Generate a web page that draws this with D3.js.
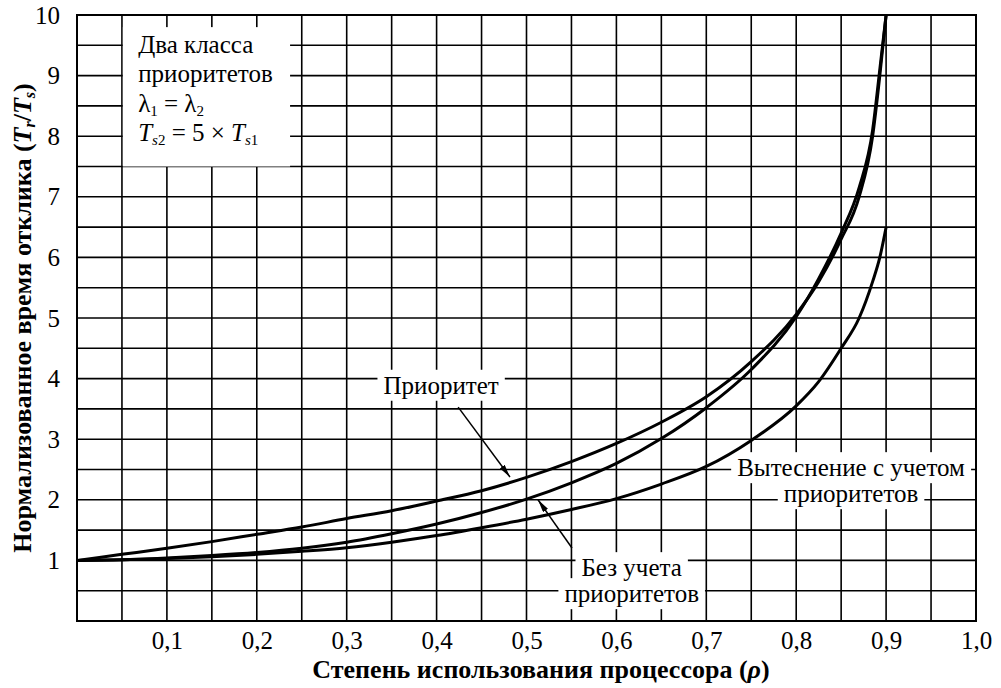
<!DOCTYPE html>
<html lang="ru">
<head>
<meta charset="UTF-8">
<title>Нормализованное время отклика</title>
<script src="https://cdn.jsdelivr.net/npm/d3@7"></script>
<style>
  body { margin: 0; background: #fff; }
  text { font-family: "Liberation Serif", "Times New Roman", Times, serif; fill: #000; }
</style>
</head>
<body>
<div id="fig"></div>
<script>
// степень использования процессора
const rho = [0, 0.05, 0.1, 0.15, 0.2, 0.25, 0.3, 0.35, 0.4, 0.45, 0.5, 0.55, 0.6, 0.65,
             0.7, 0.75, 0.8, 0.825, 0.85, 0.87, 0.885, 0.893, 0.9]
// значения
const priority   = [1.0, 1.1, 1.2, 1.31, 1.43, 1.55, 1.69, 1.82, 1.98, 2.15, 2.37, 2.63, 2.93, 3.28,
                    3.70, 4.28, 5.06, 5.6, 6.3, 7.0, 8.0, 9.0, 10.0]
const noPriority = [1.0, 1.01, 1.04, 1.08, 1.13, 1.2, 1.3, 1.44, 1.6, 1.79, 2.01, 2.28, 2.6, 3.01,
                    3.52, 4.15, 5.02, 5.65, 6.4, 7.15, 8.1, 9.1, 10.0]
const preempt    = [1.0, 1.01, 1.03, 1.06, 1.1, 1.15, 1.21, 1.3, 1.41, 1.54, 1.68, 1.84, 2.02, 2.26,
                    2.55, 2.98, 3.55, 3.95, 4.5, 5.0, 5.6, 6.0, 6.5]

const xTicks = [0.1, 0.2, 0.3, 0.4, 0.5, 0.6, 0.7, 0.8, 0.9, 1.0]
const yTicks = [1, 2, 3, 4, 5, 6, 7, 8, 9, 10]

const W = 1001, H = 688
const m = {left: 77, right: 976, top: 15, bottom: 621}

const svg = d3.select("#fig").append("svg")
    .attr("width", W).attr("height", H)

const x = d3.scaleLinear().domain([0, 1]).range([m.left, m.right])
const y = d3.scaleLinear().domain([0, 10]).range([m.bottom, m.top])

// сетка
const grid = svg.append("g").attr("stroke", "#000").attr("stroke-width", 1.6)
grid.selectAll(".vg").data(d3.range(0, 21).map(i => i * 0.05)).enter()
    .append("line")
    .attr("x1", d => x(d)).attr("x2", d => x(d))
    .attr("y1", y(0)).attr("y2", y(10))
grid.selectAll(".hg").data(d3.range(0, 21).map(i => i * 0.5)).enter()
    .append("line")
    .attr("y1", d => y(d)).attr("y2", d => y(d))
    .attr("x1", x(0)).attr("x2", x(1))

// подписи осей
const fmt = d => d.toFixed(1).replace(".", ",")
svg.append("g")
    .attr("transform", `translate(0,${m.bottom})`)
    .call(d3.axisBottom(x).tickValues(xTicks).tickFormat(fmt).tickSize(0).tickPadding(10))
    .call(g => g.select(".domain").remove())
    .selectAll("text")
    .style("font-size", "25px")

svg.append("g")
    .attr("transform", `translate(${m.left},0)`)
    .call(d3.axisLeft(y).tickValues(yTicks).tickFormat(d3.format("d")).tickSize(0).tickPadding(17))
    .call(g => g.select(".domain").remove())
    .selectAll("text")
    .style("font-size", "25px")

// белая подложка под пояснение
svg.append("rect")
    .attr("x", x(0.051)).attr("y", y(9.8))
    .attr("width", x(0.237) - x(0.051)).attr("height", y(7.5) - y(9.8))
    .attr("fill", "#fff")

// подписи с подложкой
function label(lines, cx, cy, gap) {
    const g = svg.append("g")
    lines.forEach((t, i) => {
        const txt = g.append("text")
            .attr("x", x(cx)).attr("y", y(cy) + i * gap)
            .attr("text-anchor", "middle")
            .style("font-size", "25px")
            .text(t)
        const bb = txt.node().getBBox()
        g.insert("rect", "text")
            .attr("x", bb.x - 6).attr("y", bb.y - 2)
            .attr("width", bb.width + 12).attr("height", bb.height + 4)
            .attr("fill", "#fff")
    })
}
label(["Приоритет"], 0.405, 3.75, 0)
label(["Без учета", "приоритетов"], 0.617, 0.74, 26)
label(["Вытеснение с учетом", "приоритетов"], 0.861, 2.39, 26)

// кривые
svg.append("clipPath").attr("id", "clip").append("rect")
    .attr("x", m.left).attr("y", m.top).attr("width", m.right - m.left).attr("height", m.bottom - m.top)

const line = d3.line().x(d => x(d[0])).y(d => y(d[1])).curve(d3.curveMonotoneX)
const curves = svg.append("g").attr("clip-path", "url(#clip)")
;[priority, noPriority, preempt].forEach(s => {
    curves.append("path")
        .datum(rho.map((r, i) => [r, s[i]]))
        .attr("d", line)
        .attr("fill", "none").attr("stroke", "#000").attr("stroke-width", 3)
})

// стрелки
svg.append("defs").append("marker")
    .attr("id", "arr").attr("viewBox", "0 0 13 6")
    .attr("refX", 13).attr("refY", 3)
    .attr("markerWidth", 13).attr("markerHeight", 6)
    .attr("markerUnits", "userSpaceOnUse")
    .attr("orient", "auto")
    .append("path").attr("d", "M0,0 L13,3 L0,6 Z").attr("fill", "#000")

const arrows = [
    [0.424, 3.53, 0.4816, 2.376],
    [0.5506, 1.205, 0.5128, 2.0]
]
svg.selectAll(".arrow").data(arrows).enter().append("line")
    .attr("x1", d => x(d[0])).attr("y1", d => y(d[1]))
    .attr("x2", d => x(d[2])).attr("y2", d => y(d[3]))
    .attr("stroke", "#000").attr("stroke-width", 1.5)
    .attr("marker-end", "url(#arr)")

// текст пояснения
const note = svg.append("g").style("font-size", "25px")
const nx = x(0.068)
note.append("text").attr("x", nx).attr("y", y(9.37)).text("Два класса")
note.append("text").attr("x", nx).attr("y", y(8.89)).text("приоритетов")
const l3 = note.append("text").attr("x", nx).attr("y", y(8.40))
l3.append("tspan").text("λ")
l3.append("tspan").attr("dy", 4).style("font-size", "15px").text("1")
l3.append("tspan").attr("dy", -4).text(" = λ")
l3.append("tspan").attr("dy", 4).style("font-size", "15px").text("2")
const l4 = note.append("text").attr("x", nx).attr("y", y(7.92))
l4.append("tspan").style("font-style", "italic").text("T")
l4.append("tspan").attr("dy", 4).style("font-size", "15px").style("font-style", "italic").text("s")
l4.append("tspan").style("font-size", "15px").text("2")
l4.append("tspan").attr("dy", -4).text(" = 5 × ")
l4.append("tspan").style("font-style", "italic").text("T")
l4.append("tspan").attr("dy", 4).style("font-size", "15px").style("font-style", "italic").text("s")
l4.append("tspan").style("font-size", "15px").text("1")

// рамка
svg.append("rect")
    .attr("x", m.left).attr("y", m.top).attr("width", m.right - m.left).attr("height", m.bottom - m.top)
    .attr("fill", "none").attr("stroke", "#000").attr("stroke-width", 2)

// заголовки осей
svg.append("text")
    .attr("x", 541).attr("y", 678)
    .attr("text-anchor", "middle")
    .style("font-size", "26px").style("font-weight", "bold")
    .call(t => {
        t.append("tspan").text("Степень использования процессора (")
        t.append("tspan").style("font-style", "italic").text("ρ")
        t.append("tspan").text(")")
    })

svg.append("text")
    .attr("transform", `translate(31,${(m.top + m.bottom) / 2}) rotate(-90)`)
    .attr("text-anchor", "middle")
    .style("font-size", "26px").style("font-weight", "bold")
    .call(t => {
        t.append("tspan").text("Нормализованное время отклика (")
        t.append("tspan").style("font-style", "italic").text("T")
        t.append("tspan").attr("dy", 4).style("font-size", "16px").style("font-style", "italic").text("r")
        t.append("tspan").attr("dy", -4).text("/")
        t.append("tspan").style("font-style", "italic").text("T")
        t.append("tspan").attr("dy", 4).style("font-size", "16px").style("font-style", "italic").text("s")
        t.append("tspan").attr("dy", -4).text(")")
    })
</script>
</body>
</html>
